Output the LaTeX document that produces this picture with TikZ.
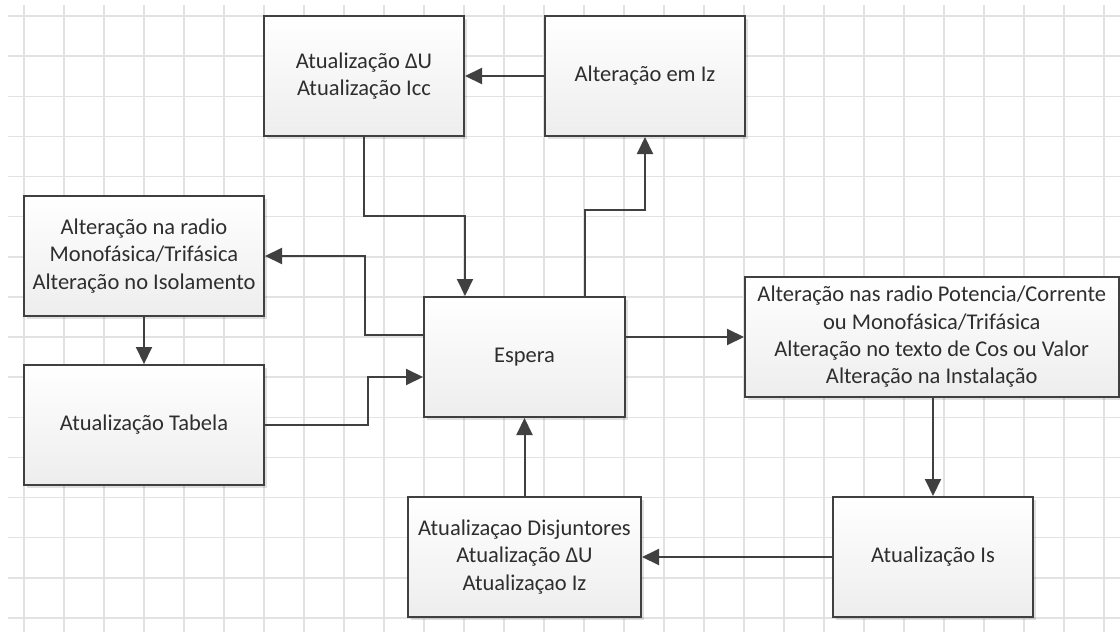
\documentclass[tikz,border=0pt]{standalone}
\usepackage{fontspec}
\setmainfont{Carlito}
\usetikzlibrary{arrows.meta,shadows}
\definecolor{ink}{HTML}{404040}
\definecolor{gridc}{HTML}{E2E2E2}
\definecolor{txt}{HTML}{2E2E2E}
\begin{document}
\begin{tikzpicture}[x=1pt,y=-1pt,
  box/.style={draw=ink, line width=2pt, top color=white, bottom color=black!7,
    align=center, text=txt, font=\fontsize{22.5}{27.3}\selectfont, inner sep=0pt,
    drop shadow={shadow xshift=3pt, shadow yshift=-3pt, fill=black, opacity=0.12}},
  arr/.style={draw=ink, line width=2pt, -{Triangle[length=17pt,width=16pt]}}]
\fill[white] (0,0) rectangle (1120,632);
\useasboundingbox (0,0) rectangle (1120,632);
% background grid
\foreach \k in {0,...,27}
  \draw[gridc, line width=1.5pt] ({24+40*\k},5) -- ({24+40*\k},632);
\foreach \k in {0,...,15}
  \draw[gridc, line width=1.5pt] (8,{16+40.13*\k}) -- (1120,{16+40.13*\k});

% process boxes
\node[box, minimum width=200pt, minimum height=120pt] (b1) at (364,76)
  {Atualização ΔU\\Atualização Icc};
\node[box, minimum width=200pt, minimum height=120pt] (b2) at (645,76)
  {Alteração em Iz};
\node[box, minimum width=240pt, minimum height=120pt] (b3) at (144,256)
  {Alteração na radio\\Monofásica/Trifásica\\Alteração no Isolamento};
\node[box, minimum width=240pt, minimum height=120pt] (b4) at (144,425)
  {Atualização Tabela};
\node[box, minimum width=201pt, minimum height=120pt] (esp) at (524.5,357)
  {Espera};
\node[box, minimum width=373.5pt, minimum height=120pt] (b5) at (931.75,337)
  {Alteração nas radio Potencia/Corrente\\ou Monofásica/Trifásica\\Alteração no texto de Cos ou Valor\\Alteração na Instalação};
\node[box, minimum width=200pt, minimum height=120pt] (is) at (933,557)
  {Atualização Is};
\node[box, minimum width=233pt, minimum height=120pt] (dj) at (524.5,557)
  {Atualizaçao Disjuntores\\Atualização ΔU\\Atualizaçao Iz};

% bend points of the orthogonal connectors
\coordinate (k1) at (465,216);
\coordinate (k2) at (585,210);
\coordinate (k3) at (365,335);
\coordinate (k4) at (368,377);

% connectors
\draw[arr] (b2.west) -- (b1.east);
\draw[arr] (b1.south) |- (k1) -- (k1 |- esp.north);
\draw[arr] (k2 |- esp.north) -- (k2) -| (b2.south);
\draw[arr] (esp.west |- k3) -- (k3) |- (b3.east);
\draw[arr] (b3.south) -- (b4.north);
\draw[arr] (b4.east) -| (k4) -- (k4 -| esp.west);
\draw[arr] (esp.east |- b5.west) -- (b5.west);
\draw[arr] (b5.south -| is.north) -- (is.north);
\draw[arr] (is.west) -- (is.west -| dj.east);
\draw[arr] (dj.north) -- (esp.south);
\end{tikzpicture}
\end{document}
